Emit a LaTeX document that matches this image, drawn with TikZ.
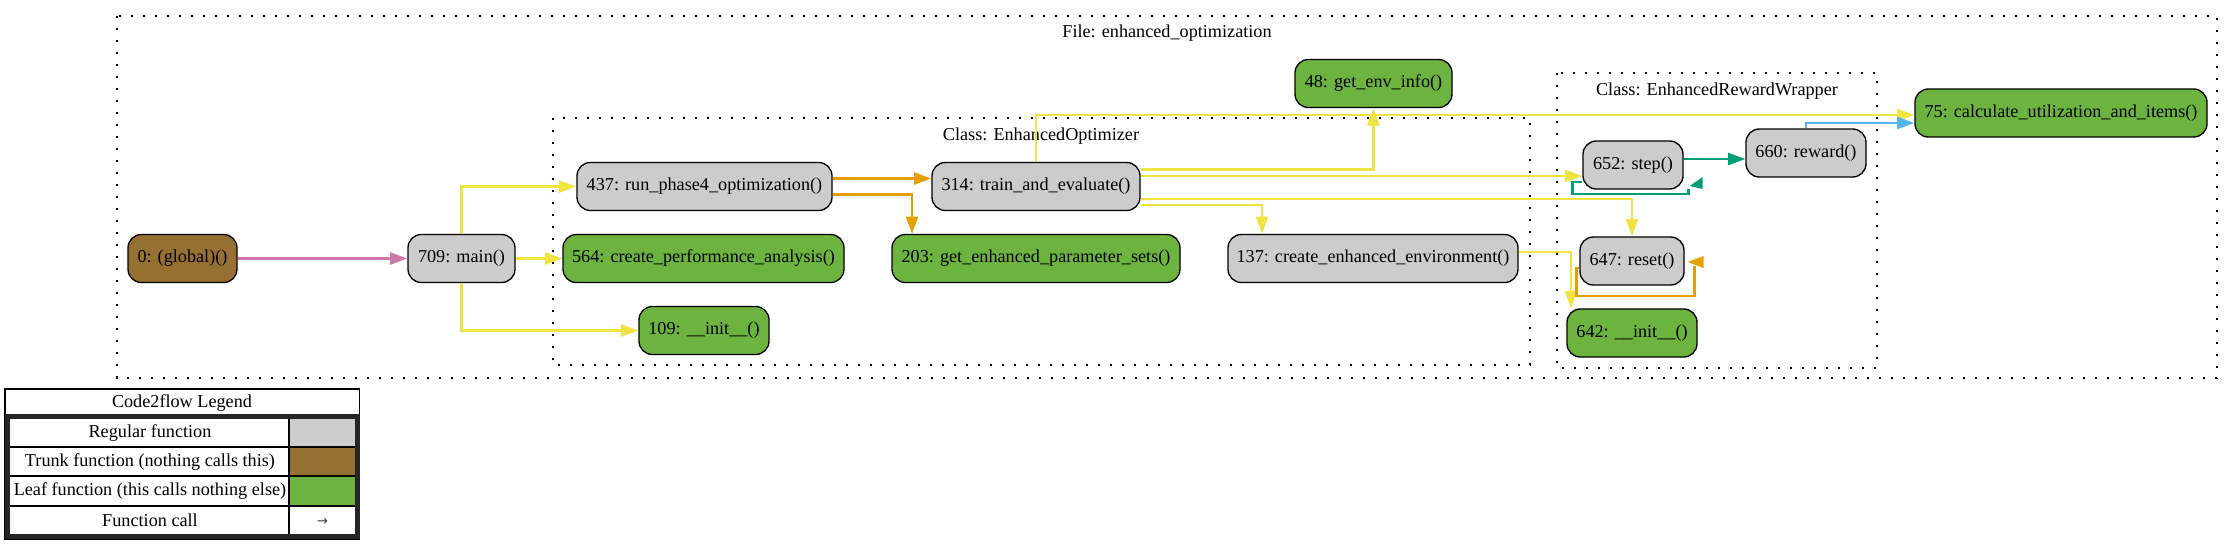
\documentclass[tikz,border=0pt]{standalone}
\usepackage{fontspec}
\setmainfont{Liberation Serif}
\newfontfamily\arrowfont{DejaVu Sans}
\usetikzlibrary{arrows.meta,calc}
\definecolor{nodegray}{HTML}{CCCCCC}
\definecolor{leafgreen}{HTML}{6DB33F}
\definecolor{trunkbrown}{HTML}{966F33}
\definecolor{eyellow}{HTML}{F0E442}
\definecolor{eorange}{HTML}{E69F00}
\definecolor{eblue}{HTML}{56B4E9}
\definecolor{egreen}{HTML}{009E73}
\definecolor{epink}{HTML}{CC79A7}
\begin{document}
\begin{tikzpicture}[x=0.75pt,y=-0.75pt,
  font=\fontsize{13.65}{16}\selectfont,
  fn/.style={draw=black, line width=1pt, rounded corners=10pt, minimum height=36pt, inner sep=0pt, fill=nodegray},
  leaf/.style={fn, fill=leafgreen},
  trunk/.style={fn, fill=trunkbrown},
  w/.style={minimum width=#1*0.75pt},
  call/.style={line width=2pt, -{Triangle[length=13pt,width=9pt]}},
  loopline/.style={line width=2pt},
  cluster/.style={draw, line width=0.8pt, dash pattern=on 1.8pt off 7.2pt},
  ctitle/.style={inner sep=0pt},
  legtext/.style={inner sep=0pt},
  thinrule/.style={line width=0.8pt},
]
\useasboundingbox (0,0) rectangle (2232,544);

% clusters
\draw[cluster] (117,16) rectangle (2217,378);
\node[ctitle] (tfile) at (1167,33) {File: enhanced\_optimization};
\draw[cluster] (553,118) rectangle (1530,365);
\node[ctitle] (topt) at (1041,136) {Class: EnhancedOptimizer};
\draw[cluster] (1557,73) rectangle (1877,368);
\node[ctitle] (trew) at (1717,91) {Class: EnhancedRewardWrapper};

% nodes
\node[trunk, w=109] (g0) at (182.5,258.5) {0: (global)()};
\node[fn, w=107] (main) at (461.5,258.5) {709: main()};
\node[fn, w=255] (n437) at (704.5,186.5) {437: run\_phase4\_optimization()};
\node[leaf, w=281] (n564) at (703.5,258.5) {564: create\_performance\_analysis()};
\node[leaf, w=130] (n109) at (704,330.5) {109: \_\_init\_\_()};
\node[fn, w=208] (n314) at (1036,186.5) {314: train\_and\_evaluate()};
\node[leaf, w=288] (n203) at (1036,258.5) {203: get\_enhanced\_parameter\_sets()};
\node[leaf, w=157] (n48) at (1373.5,83.5) {48: get\_env\_info()};
\node[fn, w=290] (n137) at (1373,258.5) {137: create\_enhanced\_environment()};
\node[fn, w=100] (n652) at (1633,165) {652: step()};
\node[fn, w=120] (n660) at (1806,153) {660: reward()};
\node[fn, w=104] (n647) at (1632,261) {647: reset()};
\node[leaf, w=130] (n642) at (1632,333) {642: \_\_init\_\_()};
\node[leaf, w=292] (n75) at (2061,113) {75: calculate\_utilization\_and\_items()};

% edges
\draw[call, epink] (g0.east) -- (main.west);
\draw[call, eyellow] (main.north) |- (n437.west);
\draw[call, eyellow] (main.east) -- (n564.west);
\draw[call, eyellow] (main.south) |- (n109.west);
\draw[call, eorange] ($(n437.east)+(0,-8)$) -- ($(n314.west)+(0,-8)$);
\draw[call, eorange] ($(n437.east)+(0,8)$) -| ($(n203.north)+(-124,0)$);
\draw[call, eyellow] ($(n314.east)+(0,-17)$) -| (n48.south);
\draw[call, eyellow] (n314.north) |- ($(n75.west)+(0,2)$);
\draw[call, eyellow] ($(n314.east)+(0,-10.5)$) -- ($(n652.west)+(0,11)$);
\draw[call, eyellow] ($(n314.east)+(0,12.5)$) -| (n647.north);
\draw[call, eyellow] ($(n314.east)+(0,18.5)$) -| ($(n137.north)+(-111,0)$);
\draw[call, egreen] ($(n652.east)+(0,-6)$) -- ($(n660.west)+(0,6)$);
\draw[call, eblue] (n660.north) |- ($(n75.west)+(0,10)$);
\draw[call, eyellow] ($(n137.east)+(0,-6.5)$) -| ($(n642.north)+(-61,0)$);
% self loops
\draw[loopline, egreen] ($(n652.west)+(0,17)$) -- ++(-10,0) -- ++(0,12) -- ++(116,0) -- ++(0,-5);
\fill[egreen] ($(n652.east)+(6,21)$) -- ++(13,-9) -- ++(0,12) -- cycle;
\draw[loopline, eorange] ($(n647.west)+(0,7)$) -- ++(-3,0) -- ++(0,28) -- ++(118,0) -- ++(0,-30);
\fill[eorange] ($(n647.east)+(3,1)$) -- ++(16,-6) -- ++(0,12) -- cycle;

% legend
\fill[nodegray] (289,418) rectangle (355.5,447);
\fill[trunkbrown] (289,447) rectangle (355.5,476);
\fill[leafgreen] (289,476) rectangle (355.5,506);
\draw[thinrule] (9.5,447) -- (355.5,447);
\draw[thinrule] (9.5,476) -- (355.5,476);
\draw[thinrule] (9.5,506) -- (355.5,506);
\draw[thinrule] (289,418) -- (289,535);
\draw[thinrule] (5,389) rectangle (359.5,539);
\draw[line width=3.4pt, black!85] (7.4,416.3) rectangle (357.3,536.7);
\node[legtext] (legtitle) at (182,403) {Code2flow Legend};
\node[legtext] (leg1) at (150,433) {Regular function};
\node[legtext] (leg2) at (150,462) {Trunk function (nothing calls this)};
\node[legtext] (leg3) at (150,491) {Leaf function (this calls nothing else)};
\node[legtext] (leg4) at (150,520) {Function call};
\node[legtext, text=black!75, font=\arrowfont\fontsize{10}{11}\selectfont] (legarrow) at (322.5,521.7) {→};
\end{tikzpicture}
\end{document}
